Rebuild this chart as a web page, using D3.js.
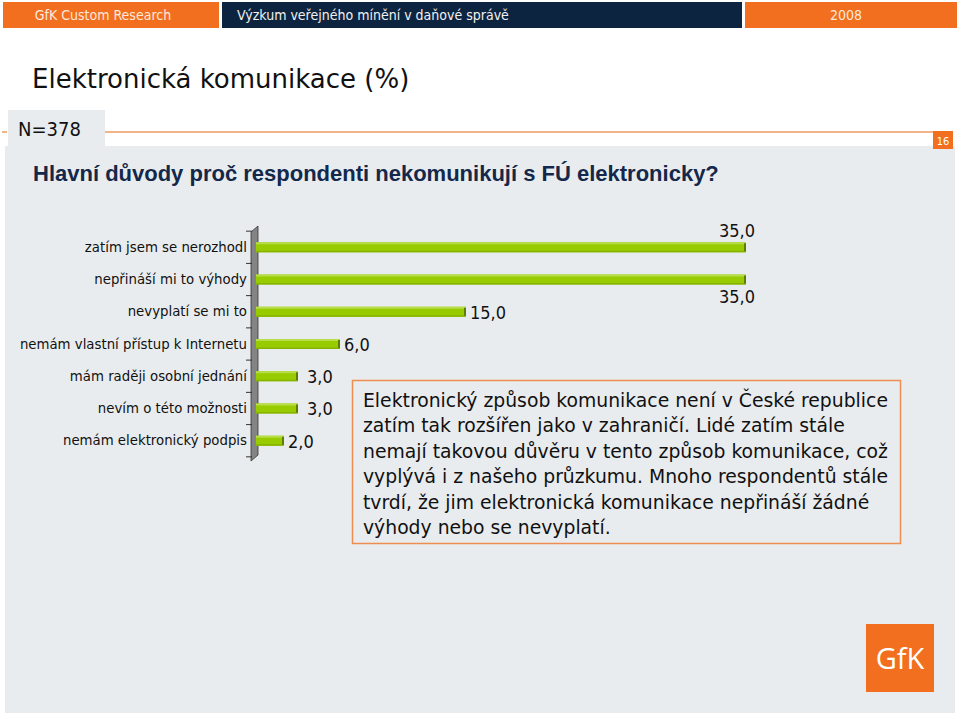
<!DOCTYPE html>
<html>
<head>
<meta charset="utf-8">
<script src="https://cdn.jsdelivr.net/npm/d3@7"></script>
<style>
html,body{margin:0;padding:0;background:#ffffff;}
svg{display:block;}
</style>
</head>
<body>
<svg id="chart" width="960" height="716"></svg>
<script>
// ---- data ----
const categories = [
  "zatím jsem se nerozhodl",
  "nepřináší mi to výhody",
  "nevyplatí se mi to",
  "nemám vlastní přístup k Internetu",
  "mám raději osobní jednání",
  "nevím o této možnosti",
  "nemám elektronický podpis"
];
const values = [35, 35, 15, 6, 3, 3, 2];
const valueLabels = ["35,0", "35,0", "15,0", "6,0", "3,0", "3,0", "2,0"];
const headerTexts = ["GfK Custom Research", "Výzkum veřejného mínění v daňové správě", "2008"];
const titleText = "Elektronická komunikace (%)";
const sampleText = "N=378";
const pageNumber = "16";
const subtitleText = "Hlavní důvody proč respondenti nekomunikují s FÚ elektronicky?";
const noteLines = [
  "Elektronický způsob komunikace není v České republice",
  "zatím tak rozšířen jako v zahraničí. Lidé zatím stále",
  "nemají takovou důvěru v tento způsob komunikace, což",
  "vyplývá i z našeho průzkumu. Mnoho respondentů stále",
  "tvrdí, že jim elektronická komunikace nepřináší žádné",
  "výhody nebo se nevyplatí."
];

const svg = d3.select("#chart");
const ORANGE = "#f26f1f";
const NAVY = "#0d2440";
const PANEL = "#e9ecee";
const COND = "'DejaVu Sans Condensed','DejaVu Sans',sans-serif";
const SANS = "'DejaVu Sans',Verdana,sans-serif";

// ---- header bar ----
svg.append("rect").attr("x", 3).attr("y", 2).attr("width", 216).attr("height", 26).attr("fill", ORANGE);
svg.append("rect").attr("x", 222).attr("y", 2).attr("width", 520).attr("height", 26).attr("fill", NAVY);
svg.append("rect").attr("x", 745).attr("y", 2).attr("width", 212).attr("height", 26).attr("fill", ORANGE);
svg.append("text").attr("x", 103).attr("y", 20).attr("text-anchor", "middle")
  .attr("font-family", COND).attr("font-size", 14).attr("fill", "#fbe9dc").text(headerTexts[0]);
svg.append("text").attr("x", 237).attr("y", 20)
  .attr("font-family", COND).attr("font-size", 14).attr("fill", "#f1f1f1").text(headerTexts[1]);
svg.append("text").attr("x", 846).attr("y", 20).attr("text-anchor", "middle")
  .attr("font-family", COND).attr("font-size", 14).attr("fill", "#fbe9dc").text(headerTexts[2]);

// ---- title ----
svg.append("text").attr("x", 32).attr("y", 88)
  .attr("font-family", SANS).attr("font-size", 26).attr("fill", "#111").text(titleText);

// ---- grey panel, N box, orange rule ----
svg.append("rect").attr("x", 5).attr("y", 146).attr("width", 950).attr("height", 567).attr("fill", PANEL);
svg.append("rect").attr("x", 8).attr("y", 110).attr("width", 97).attr("height", 37).attr("fill", PANEL);
svg.append("line").attr("x1", 105).attr("x2", 953).attr("y1", 132).attr("y2", 132)
  .attr("stroke", "#ee9a62").attr("stroke-width", 1.5);
svg.append("line").attr("x1", 2).attr("x2", 7).attr("y1", 132).attr("y2", 132)
  .attr("stroke", "#ee9a62").attr("stroke-width", 1.5);
svg.append("text").attr("x", 18).attr("y", 136)
  .attr("font-family", COND).attr("font-size", 20).attr("fill", "#111").text(sampleText);
svg.append("rect").attr("x", 933).attr("y", 131).attr("width", 20).attr("height", 18).attr("fill", ORANGE);
svg.append("text").attr("x", 943).attr("y", 144.5).attr("text-anchor", "middle")
  .attr("font-family", COND).attr("font-size", 11).attr("fill", "#fff").text(pageNumber);

// ---- subtitle ----
svg.append("text").attr("x", 33).attr("y", 181)
  .attr("font-family", "'Liberation Sans',Arial,sans-serif").attr("font-weight", "bold")
  .attr("font-size", 22).attr("fill", "#13284a").text(subtitleText);

// ---- chart ----
const x = d3.scaleLinear().domain([0, 35]).range([256, 746]);
const y = d3.scaleBand().domain(categories).range([231, 457]).paddingInner(0.69).paddingOuter(0.35);

// 3D wall (axis)
const wallTop = 226, wallBot = 461;
svg.append("path")
  .attr("d", `M251,${wallTop + 6} L258,${wallTop} L258,${wallBot - 6} L251,${wallBot} Z`)
  .attr("fill", "#848484").attr("stroke", "#333").attr("stroke-width", 0.8);

const yAxis = d3.axisLeft(y).tickSize(0).tickPadding(0);
const gAxis = svg.append("g").attr("transform", "translate(247,0)").call(yAxis);
gAxis.select(".domain").remove();
gAxis.selectAll("text")
  .attr("font-family", SANS).attr("font-size", 13.3).attr("fill", "#111").attr("dy", "0.35em");

// tick marks at band boundaries
const bounds = categories.map(c => y(c) - y.step() * y.paddingInner() / 2).concat([y(categories[categories.length - 1]) + y.bandwidth() + y.step() * y.paddingInner() / 2]);
svg.append("g").selectAll("line").data(bounds).join("line")
  .attr("x1", 246).attr("x2", 252).attr("y1", d => d).attr("y2", d => d)
  .attr("stroke", "#333").attr("stroke-width", 1);

// bars
const bars = svg.append("g").selectAll("g").data(categories).join("g");
bars.append("rect")
  .attr("x", x(0)).attr("y", d => y(d))
  .attr("width", (d, i) => x(values[i]) - x(0)).attr("height", y.bandwidth())
  .attr("fill", "#99cc00");
bars.append("rect")
  .attr("x", x(0)).attr("y", d => y(d))
  .attr("width", (d, i) => x(values[i]) - x(0)).attr("height", 2)
  .attr("fill", "#b8dd4a");
bars.append("rect")
  .attr("x", x(0)).attr("y", d => y(d) + y.bandwidth() - 1.5)
  .attr("width", (d, i) => x(values[i]) - x(0)).attr("height", 1.5)
  .attr("fill", "#86b300");
bars.append("rect")
  .attr("x", (d, i) => x(values[i]) - 2).attr("y", d => y(d) + 1)
  .attr("width", 2).attr("height", y.bandwidth() - 2)
  .attr("fill", "#5e7d00");

// value labels
svg.append("g").selectAll("text").data(categories).join("text")
  .attr("font-family", COND).attr("font-size", 18).attr("fill", "#111")
  .attr("text-anchor", (d, i) => values[i] >= 30 ? "end" : "start")
  .attr("x", (d, i) => values[i] >= 30 ? x(values[i]) + 9 : x(values[i]) + (values[i] <= 3 ? (values[i] === 2 ? 4 : 9) : 4))
  .attr("y", (d, i) => {
    const c = y(d) + y.bandwidth() / 2;
    if (values[i] >= 30) return i % 2 === 0 ? c - 10 : c + 23;
    return c + 7;
  })
  .text((d, i) => valueLabels[i]);

// ---- note box ----
svg.append("rect").attr("x", 352.5).attr("y", 380.5).attr("width", 548).attr("height", 163)
  .attr("fill", PANEL).attr("stroke", "#ef8c50").attr("stroke-width", 1.5);
svg.append("g").selectAll("text").data(noteLines).join("text")
  .attr("x", 363).attr("y", (d, i) => 407 + i * 25.4)
  .attr("font-family", SANS).attr("font-size", 18.8).attr("fill", "#111")
  .text(d => d);

// ---- GfK logo ----
svg.append("rect").attr("x", 866).attr("y", 624).attr("width", 68).attr("height", 68).attr("fill", ORANGE);
svg.append("text").attr("x", 900).attr("y", 669).attr("text-anchor", "middle")
  .attr("font-family", "'Open Sans','Noto Sans',sans-serif").attr("font-size", 29).attr("fill", "#fff").text("GfK");
</script>
</body>
</html>
